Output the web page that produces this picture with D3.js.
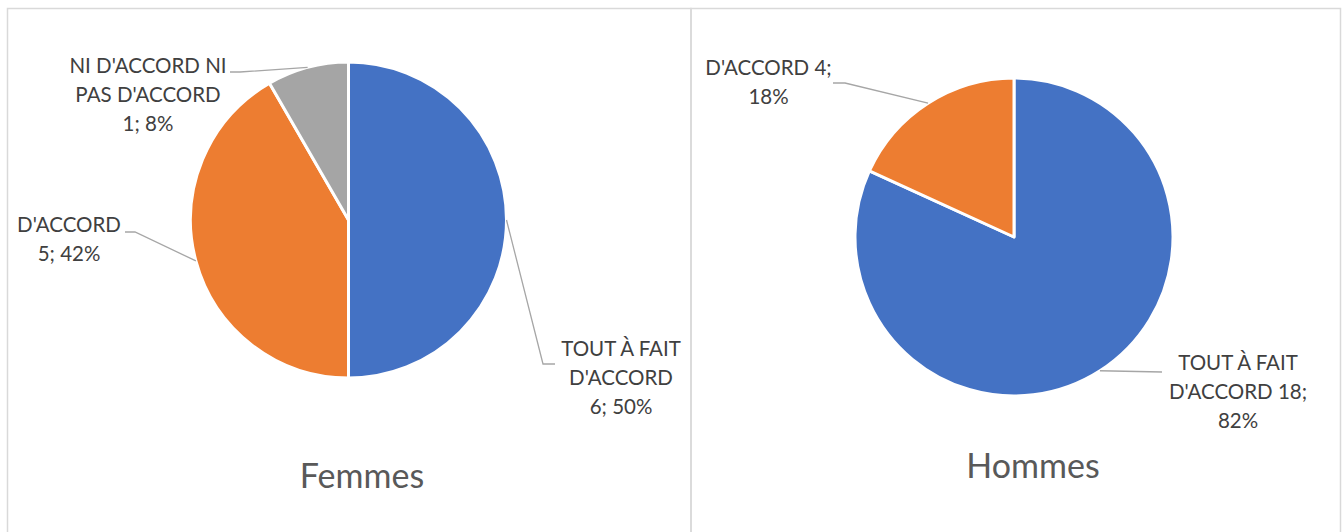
<!DOCTYPE html>
<html>
<head>
    <title>Femmes / Hommes</title>
    <style>
        body { margin: 0; background: #fff; }
        .lbl { font-family: Lato, "Open Sans", sans-serif; font-size: 20.5px; fill: #404040; }
        .ttl { font-family: Lato, "Open Sans", sans-serif; font-size: 34px; fill: #595959; }
        .leader { fill: none; stroke: #a6a6a6; stroke-width: 1.3; }
        .frame { fill: none; stroke: #d9d9d9; stroke-width: 1.5; }
    </style>
</head>
<body>
    <div id="chart"></div>
    <script src="https://d3js.org/d3.v7.min.js"></script>
    <script>
        // data
        const femmesCategories = ["TOUT À FAIT D'ACCORD", "D'ACCORD", "NI D'ACCORD NI PAS D'ACCORD"];
        const femmesValues = [6, 5, 1];
        const hommesCategories = ["TOUT À FAIT D'ACCORD", "D'ACCORD"];
        const hommesValues = [18, 4];
        const colors = ["#4472C4", "#ED7D31", "#A5A5A5"];

        const W = 1343, H = 532;
        const svg = d3.select("#chart").append("svg")
            .attr("width", W)
            .attr("height", H);

        // panel frames (bottom runs off the picture)
        svg.append("rect").attr("class", "frame")
            .attr("x", 7.5).attr("y", 8.5).attr("width", 683.5).attr("height", 540);
        svg.append("rect").attr("class", "frame")
            .attr("x", 691).attr("y", 8.5).attr("width", 649.5).attr("height", 540);

        // layout: label centre / first baseline and leader points, relative to pie centre
        const panels = [
            {
                title: "Femmes", cats: femmesCategories, vals: femmesValues,
                cx: 348.5, cy: 220, r: 158, titleX: 362, titleY: 488,
                labels: [
                    { words: [3, 1, 2], x: 272.5, y: 136, elbow: [194.5, 144], end: [206.5, 144] },
                    { words: [1, 2], x: -279.5, y: 12, elbow: [-213.5, 12], end: [-223.5, 12] },
                    { words: [3, 2, 2], x: -200.5, y: -147, elbow: [-108.5, -148], end: [-118.5, -148] }
                ]
            },
            {
                title: "Hommes", cats: hommesCategories, vals: hommesValues,
                cx: 1014, cy: 237, r: 159, titleX: 1033, titleY: 478,
                labels: [
                    { words: [3, 2, 1], x: 224, y: 133, elbow: [148, 135], end: [148, 135] },
                    { words: [2, 1], x: -245.5, y: -162, elbow: [-169, -154], end: [-181, -154] }
                ]
            }
        ];

        const pie = d3.pie().sort(null).value(d => d.v);
        const lineH = 29;

        panels.forEach(p => {
            const data = p.cats.map((c, i) => ({ cat: c, v: p.vals[i], i: i }));
            const total = d3.sum(p.vals);
            const arcs = pie(data);
            const arc = d3.arc().innerRadius(0).outerRadius(p.r);
            const g = svg.append("g").attr("transform", `translate(${p.cx},${p.cy})`);

            g.selectAll("path.slice").data(arcs).enter().append("path")
                .attr("class", "slice")
                .attr("d", arc)
                .attr("fill", d => colors[d.data.i])
                .attr("stroke", "#fff")
                .attr("stroke-width", 3)
                .attr("stroke-linejoin", "round");

            arcs.forEach((a, k) => {
                const L = p.labels[k];
                const mid = (a.startAngle + a.endAngle) / 2;
                const sx = p.r * Math.sin(mid), sy = -p.r * Math.cos(mid);
                g.append("polyline").attr("class", "leader")
                    .attr("points", [[sx, sy], L.elbow, L.end].map(q => q.join(",")).join(" "));

                const pct = Math.round(a.data.v / total * 100);
                const words = `${a.data.cat} ${a.data.v}; ${pct}%`.split(" ");
                const lines = [];
                let pos = 0;
                L.words.forEach(n => { lines.push(words.slice(pos, pos + n).join(" ")); pos += n; });

                const t = g.append("text").attr("class", "lbl").attr("text-anchor", "middle");
                lines.forEach((ln, j) => {
                    t.append("tspan").attr("x", L.x).attr("y", L.y + j * lineH).text(ln);
                });
            });

            svg.append("text").attr("class", "ttl")
                .attr("x", p.titleX).attr("y", p.titleY)
                .attr("text-anchor", "middle")
                .text(p.title);
        });
    </script>
</body>
</html>
